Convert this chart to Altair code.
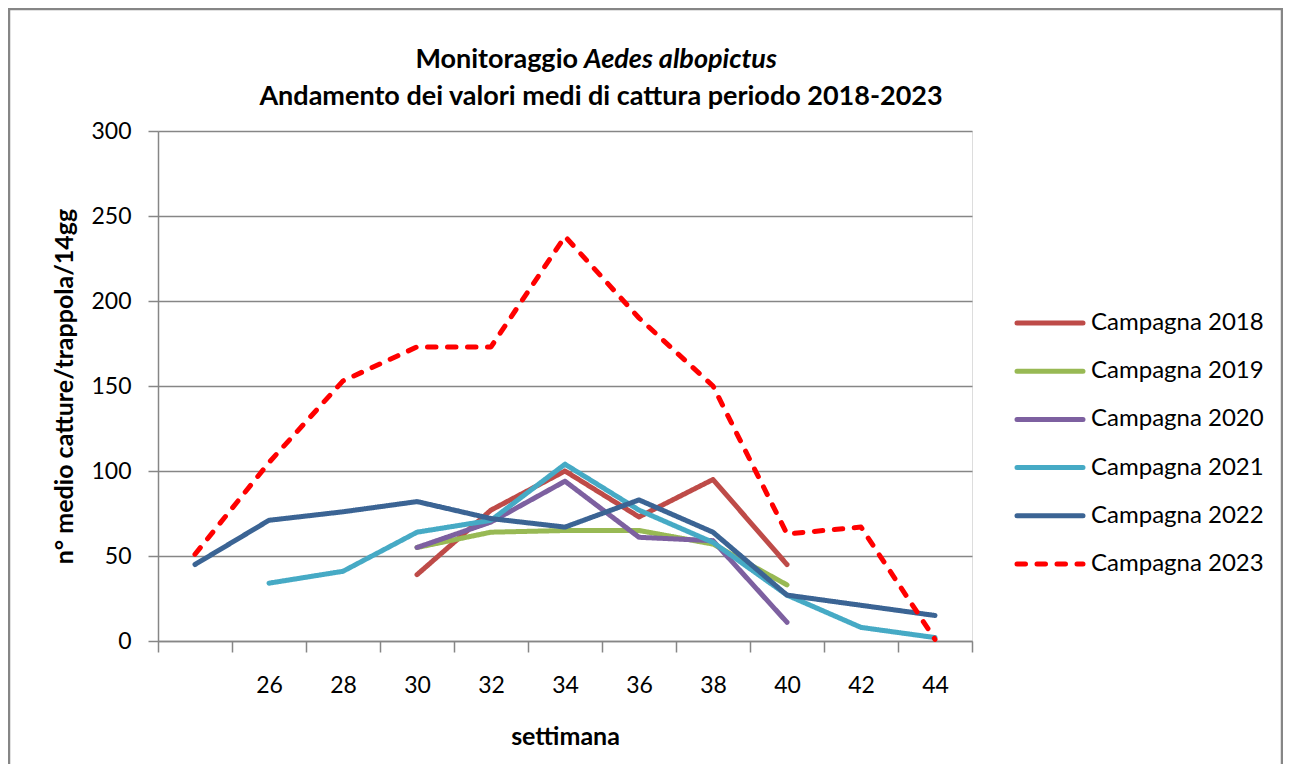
import altair as alt
import pandas as pd

WEEKS = [24, 26, 28, 30, 32, 34, 36, 38, 40, 42, 44]
SERIES = ["Campagna 2018", "Campagna 2019", "Campagna 2020",
          "Campagna 2021", "Campagna 2022", "Campagna 2023"]
V2018 = [None, None, None, 39, 77, 100, 73, 95, 45, None, None]
V2019 = [None, None, None, 55, 64, 65, 65, 57, 33, None, None]
V2020 = [None, None, None, 55, 70, 94, 61, 59, 11, None, None]
V2021 = [None, 34, 41, 64, 71, 104, 77, 58, 27, 8, 2]
V2022 = [45, 71, 76, 82, 72, 67, 83, 64, 27, 21, 15]
V2023 = [51, 105, 153, 173, 173, 238, 190, 150, 63, 67, 1]
VALUES = [V2018, V2019, V2020, V2021, V2022, V2023]
COLORS = ["#BE4B48", "#98B954", "#7D60A0", "#46AAC5", "#3B6494", "#FF0000"]
DASHES = [[1, 0], [1, 0], [1, 0], [1, 0], [1, 0], [8.5, 11.5]]
Y_TICKS = [0, 50, 100, 150, 200, 250, 300]
X_TICKS = list(range(23, 46, 2))

TITLE_1A = "Monitoraggio"
TITLE_1B = "Aedes albopictus"
TITLE_2 = "Andamento dei valori medi di cattura periodo 2018-2023"
X_TITLE = "settimana"
Y_TITLE = "n° medio catture/trappola/14gg"

FONT = "Lato"
GRAY = "#868686"

rows = []
for name, vals in zip(SERIES, VALUES):
    for w, v in zip(WEEKS, vals):
        if v is not None:
            rows.append({"week": w, "value": v, "series": name})
df = pd.DataFrame(rows)

color_scale = alt.Scale(domain=SERIES, range=COLORS)
dash_scale = alt.Scale(domain=SERIES, range=DASHES)

lines = alt.Chart(df).mark_line(
    strokeWidth=5, strokeCap="round", strokeJoin="round"
).encode(
    x=alt.X("week:Q",
            scale=alt.Scale(domain=[23, 45], nice=False, zero=False),
            axis=alt.Axis(values=X_TICKS, grid=False, tickSize=11,
                          tickWidth=1.5, tickColor=GRAY, domainColor=GRAY,
                          domainWidth=1.5, labelOffset=37, labelPadding=22,
                          labelFlush=False, labelOverlap=False,
                          labelExpr="datum.value >= 25 && datum.value <= 43 ? format(datum.value + 1, 'd') : ''",
                          labelFont=FONT, labelFontSize=23, labelColor="black",
                          title=X_TITLE, titleFont=FONT, titleFontSize=25,
                          titleFontWeight="bold", titleColor="black",
                          titlePadding=27)),
    y=alt.Y("value:Q",
            scale=alt.Scale(domain=[0, 300], nice=False),
            axis=alt.Axis(values=Y_TICKS, grid=True, gridColor=GRAY,
                          gridWidth=1.5, tickSize=10, tickWidth=1.5,
                          tickColor=GRAY, domainColor=GRAY, domainWidth=1.5,
                          labelPadding=17, labelFont=FONT, labelFontSize=23,
                          labelColor="black",
                          title=Y_TITLE, titleFont=FONT, titleFontSize=25,
                          titleFontWeight="bold", titleColor="black",
                          titlePadding=13)),
    color=alt.Color("series:N", scale=color_scale, legend=None),
    strokeDash=alt.StrokeDash("series:N", scale=dash_scale, legend=None),
)

leg_df = pd.DataFrame({"series": SERIES, "idx": list(range(len(SERIES)))})
leg_y = alt.Y("idx:Q", scale=alt.Scale(domain=[0, len(SERIES) - 1],
                                        range=[192, 433], nice=False, zero=False),
              axis=None)
legend_lines = alt.Chart(leg_df).mark_rule(
    strokeWidth=5, strokeCap="round"
).encode(
    x=alt.value(859), x2=alt.value(925), y=leg_y,
    color=alt.Color("series:N", scale=color_scale, legend=None),
    strokeDash=alt.StrokeDash("series:N", scale=dash_scale, legend=None),
)
legend_text = alt.Chart(leg_df).mark_text(
    align="left", baseline="middle", font=FONT, fontSize=24, color="black"
).encode(x=alt.value(933), y=leg_y, text="series:N")
legend = alt.layer(legend_lines, legend_text)

t1a = alt.Chart(pd.DataFrame({"t": [TITLE_1A]})).mark_text(
    align="right", baseline="middle", font=FONT, fontSize=27,
    fontWeight="bold", color="black"
).encode(x=alt.value(420), y=alt.value(-71), text="t:N")
t1b = alt.Chart(pd.DataFrame({"t": [TITLE_1B]})).mark_text(
    align="left", baseline="middle", font=FONT, fontSize=27,
    fontWeight="bold", fontStyle="italic", color="black"
).encode(x=alt.value(426), y=alt.value(-71), text="t:N")
t2 = alt.Chart(pd.DataFrame({"t": [TITLE_2]})).mark_text(
    align="center", baseline="middle", font=FONT, fontSize=27,
    fontWeight="bold", color="black"
).encode(x=alt.value(443), y=alt.value(-34), text="t:N")

frame = alt.Chart(pd.DataFrame({"a": [0]})).mark_rect(
    fill="transparent", stroke=GRAY, strokeWidth=2.5
).encode(x=alt.value(-149), x2=alt.value(1124), y=alt.value(-122), y2=alt.value(680))

chart = alt.layer(
    frame, lines, legend, t1a, t1b, t2
).resolve_scale(y="independent").properties(
    width=814, height=510,
    autosize=alt.AutoSizeParams(type="none"),
    padding={"left": 150, "top": 123, "right": 311, "bottom": 123},
).configure_view(stroke=None).configure(background="white")

chart.save("out.html", embed_options={"renderer": "svg", "actions": False})
